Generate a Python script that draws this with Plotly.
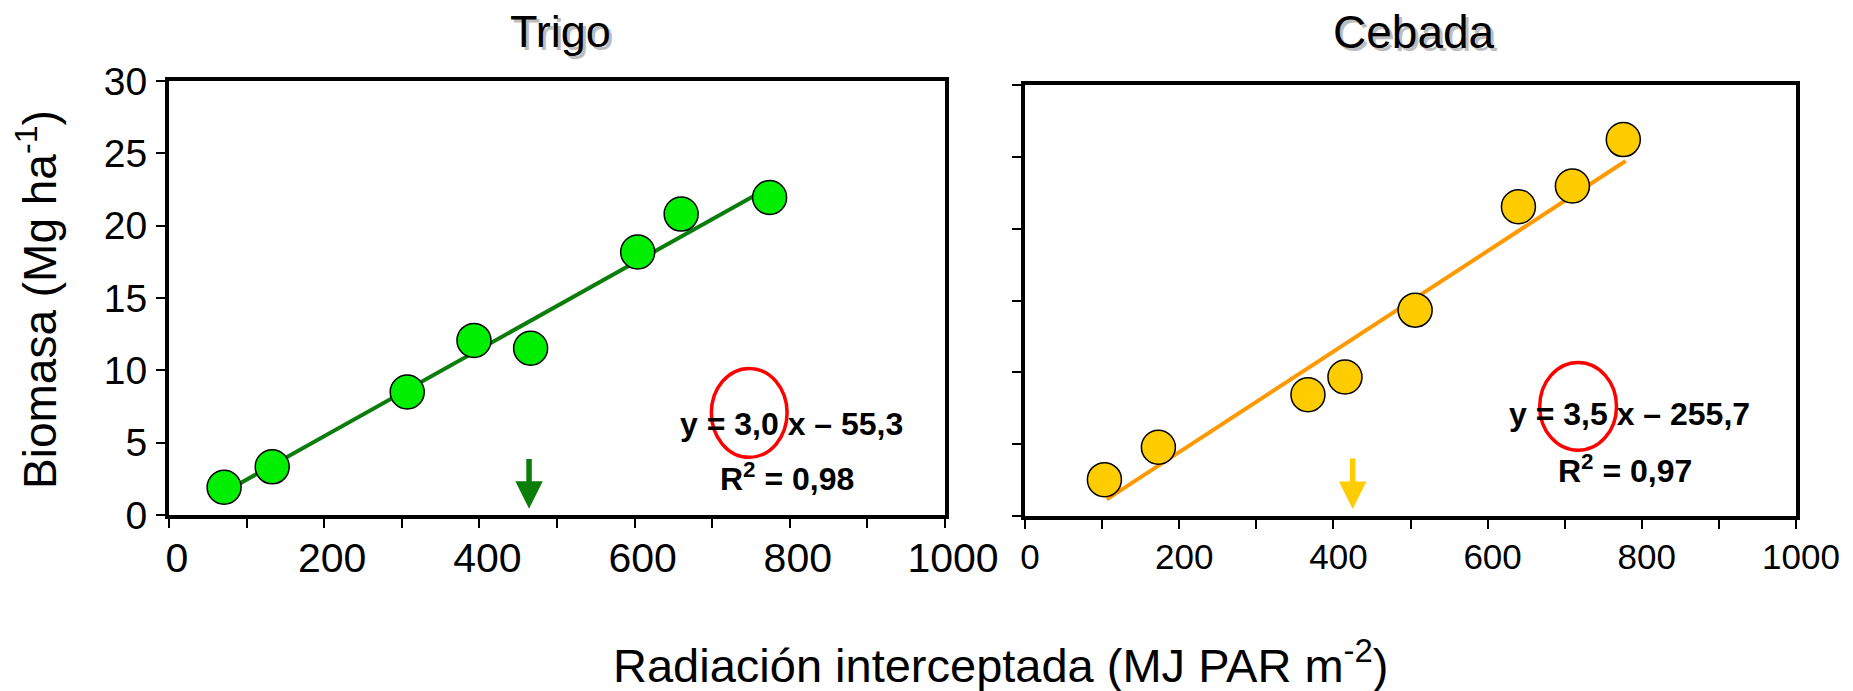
import plotly.graph_objects as go

# ---------------- data ----------------
panel_titles = ["Trigo", "Cebada"]

trigo_x = [71, 133, 307, 393, 466, 604, 660, 774]
trigo_y = [1.92, 3.33, 8.50, 12.07, 11.53, 18.18, 20.80, 21.95]

cebada_x = [103, 173, 367, 415, 506, 640, 710, 776]
cebada_y = [2.53, 4.79, 8.44, 9.68, 14.33, 21.53, 22.97, 26.20]

# regression (g m-2 = slope * MJ + intercept) -> Mg ha-1 = /100
trigo_slope, trigo_intercept = 3.0, -55.3
cebada_slope, cebada_intercept = 3.5, -255.7
trigo_fit_x = [71, 760]
cebada_fit_x = [106, 779]

trigo_eq = "y = 3,0 x \u2013 55,3"
trigo_r2 = "R<sup>2</sup> = 0,98"
cebada_eq = "y = 3,5 x \u2013 255,7"
cebada_r2 = "R<sup>2</sup> = 0,97"

# arrows: x, top, tip
trigo_arrow = [464, 3.98, 0.44]
cebada_arrow = [425, 4.10, 0.49]

# red ellipses: cx, cy, half-width (x units), half-height (y units)
trigo_ellipse = [747.7, 7.06, 48.8, 3.07]
cebada_ellipse = [717.4, 7.63, 49.8, 3.05]

x_tickvals = list(range(0, 1001, 100))
x_ticktext = [str(v) if v % 200 == 0 else "" for v in x_tickvals]
y_tickvals = [0, 5, 10, 15, 20, 25, 30]

y_title = "Biomasa (Mg ha<sup>-1</sup>)"
x_title = "Radiaci\u00f3n interceptada (MJ PAR m<sup>-2</sup>)"

FONT = "Liberation Sans, Arial, Helvetica, sans-serif"
W, H = 1853, 691

trigo_fit_y = [(trigo_slope * v + trigo_intercept) / 100 for v in trigo_fit_x]
cebada_fit_y = [(cebada_slope * v + cebada_intercept) / 100 for v in cebada_fit_x]

fig = go.Figure()

fig.add_trace(go.Scatter(x=trigo_fit_x, y=trigo_fit_y, mode="lines",
                         line=dict(color="#0a7d0a", width=4),
                         xaxis="x", yaxis="y", showlegend=False, hoverinfo="skip"))
fig.add_trace(go.Scatter(x=trigo_x, y=trigo_y, mode="markers",
                         marker=dict(size=34, color="#00EE00",
                                     line=dict(color="black", width=1.5)),
                         xaxis="x", yaxis="y", showlegend=False, cliponaxis=False))

fig.add_trace(go.Scatter(x=cebada_fit_x, y=cebada_fit_y, mode="lines",
                         line=dict(color="#FF9900", width=4),
                         xaxis="x2", yaxis="y2", showlegend=False, hoverinfo="skip"))
fig.add_trace(go.Scatter(x=cebada_x, y=cebada_y, mode="markers",
                         marker=dict(size=34, color="#FFCC00",
                                     line=dict(color="black", width=1.5)),
                         xaxis="x2", yaxis="y2", showlegend=False, cliponaxis=False))

axis_common = dict(showline=True, linecolor="black", linewidth=4, mirror=True,
                   ticks="outside", ticklen=9, tickwidth=1.5, tickcolor="black",
                   showgrid=False, zeroline=False, fixedrange=True, automargin=False)

fig.update_layout(
    template="none",
    width=W, height=H, autosize=False,
    margin=dict(l=0, r=0, t=0, b=0, pad=0),
    paper_bgcolor="white", plot_bgcolor="white",
    font=dict(family=FONT, color="black"),
    xaxis=dict(domain=[169 / W, 945 / W], range=[0, 1000], anchor="y",
               tickvals=x_tickvals, ticktext=x_ticktext,
               tickfont=dict(size=41, family=FONT), ticklabelstandoff=-5,
               ticklabelshift=8, **axis_common),
    yaxis=dict(domain=[1 - 515 / H, 1 - 81 / H], range=[0, 30], anchor="x",
               tickvals=y_tickvals, tickfont=dict(size=39, family=FONT),
               ticklabelstandoff=1, **axis_common),
    xaxis2=dict(domain=[1025 / W, 1796 / W], range=[0, 1000], anchor="y2",
                tickvals=x_tickvals, ticktext=x_ticktext,
                tickfont=dict(size=35, family=FONT), ticklabelstandoff=-2,
                ticklabelshift=5, **axis_common),
    yaxis2=dict(domain=[1 - 516 / H, 1 - 85 / H], range=[0, 30], anchor="x2",
                tickvals=y_tickvals, showticklabels=False, **axis_common),
)

ann = []
# titles with soft shadow
title_pos = [(560 / W, 1 - 32 / H, 45), (1414 / W, 1 - 32 / H, 46)]
for t, (px, py, fs) in zip(panel_titles, title_pos):
    ann.append(dict(text=t, x=px, y=py, xref="paper", yref="paper", showarrow=False,
                    font=dict(size=fs, color="#bdbdbd", family=FONT),
                    xanchor="center", yanchor="middle", xshift=3, yshift=-3))
    ann.append(dict(text=t, x=px, y=py, xref="paper", yref="paper", showarrow=False,
                    font=dict(size=fs, color="black", family=FONT),
                    xanchor="center", yanchor="middle"))

# axis titles
ann.append(dict(text=y_title, x=37 / W, y=1 - 300 / H, xref="paper", yref="paper",
                showarrow=False, textangle=-90, font=dict(size=46, family=FONT),
                xanchor="center", yanchor="middle"))
ann.append(dict(text=x_title, x=1000 / W, y=1 - 662 / H, xref="paper", yref="paper",
                showarrow=False, font=dict(size=47, family=FONT),
                xanchor="center", yanchor="middle"))

# equations
eq_font = dict(size=32, family=FONT, color="black")
ann += [
    dict(text="<b>" + trigo_eq + "</b>", x=802, y=6.30, xref="x", yref="y",
         showarrow=False, font=eq_font),
    dict(text="<b>" + trigo_r2 + "</b>", x=797, y=2.61, xref="x", yref="y",
         showarrow=False, font=eq_font),
    dict(text="<b>" + cebada_eq + "</b>", x=783.5, y=7.09, xref="x2", yref="y2",
         showarrow=False, font=eq_font),
    dict(text="<b>" + cebada_r2 + "</b>", x=777.7, y=3.27, xref="x2", yref="y2",
         showarrow=False, font=eq_font),
]

# arrows
for arr, xr, yr, col in [(trigo_arrow, "x", "y", "#0a7d0a"),
                         (cebada_arrow, "x2", "y2", "#FFCC00")]:
    ann.append(dict(text="", x=arr[0], y=arr[2], ax=arr[0], ay=arr[1],
                    xref=xr, yref=yr, axref=xr, ayref=yr, showarrow=True,
                    arrowhead=2, arrowsize=1, arrowwidth=5.5, arrowcolor=col))

fig.update_layout(annotations=ann)

shapes = []
for el, xr, yr in [(trigo_ellipse, "x", "y"), (cebada_ellipse, "x2", "y2")]:
    cx, cy, hw, hh = el
    shapes.append(dict(type="circle", xref=xr, yref=yr,
                       x0=cx - hw, x1=cx + hw, y0=cy - hh, y1=cy + hh,
                       line=dict(color="#FF0000", width=3.5)))
fig.update_layout(shapes=shapes)

fig.write_html("out.html")
